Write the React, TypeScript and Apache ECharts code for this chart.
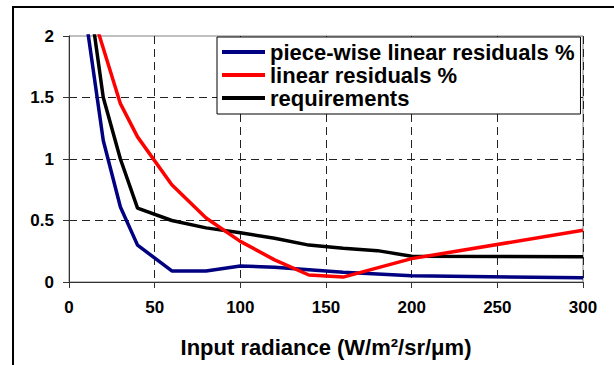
import React, { useEffect, useRef } from "react";
import * as echarts from "echarts";

const radiance = [10, 20, 30, 40, 60, 80, 100, 120, 140, 160, 180, 200, 300];
const pieceWise = [2.13, 1.15, 0.61, 0.3, 0.09, 0.09, 0.13, 0.12, 0.1, 0.08, 0.065, 0.05, 0.035];
const linearRes = [2.35, 1.9, 1.45, 1.18, 0.79, 0.52, 0.33, 0.18, 0.057, 0.04, 0.115, 0.19, 0.42];
const requirements = [2.5, 1.5, 1.0, 0.6, 0.5, 0.44, 0.4, 0.355, 0.3, 0.275, 0.255, 0.21, 0.205];
const seriesNames = ["piece-wise linear residuals %", "linear residuals %", "requirements"];
const seriesColors = ["#000080", "#FF0000", "#000000"];
const seriesZ = [2, 3, 1];
const xTitle = "Input radiance (W/m²/sr/μm)";

const FONT = "'Liberation Sans', Arial, sans-serif";

export default function App() {
  const ref = useRef<HTMLDivElement>(null);
  useEffect(() => {
    document.body.style.margin = "0";
    const chart = echarts.init(ref.current!, null, { renderer: "svg" });
    const sets = [pieceWise, linearRes, requirements];
    chart.setOption({
      animation: false,
      backgroundColor: "#fff",
      textStyle: { fontFamily: FONT },
      grid: { left: 69, right: 31, top: 36, bottom: 83, show: true, borderColor: "#808080", borderWidth: 1, backgroundColor: "transparent" },
      graphic: [
        {
          type: "rect",
          shape: { x: 13, y: 7, width: 700, height: 500 },
          style: { fill: "none", stroke: "#000", lineWidth: 2 },
          silent: true,
        },
      ],
      legend: {
        left: 217,
        top: 37,
        orient: "vertical",
        data: seriesNames,
        icon: "rect",
        itemWidth: 43,
        itemHeight: 4,
        itemGap: 1,
        padding: [4, 6, 5, 5],
        borderColor: "#000",
        borderWidth: 1,
        backgroundColor: "#fff",
        textStyle: { fontFamily: FONT, fontSize: 22, fontWeight: "bold", color: "#000", lineHeight: 22 },
      },
      xAxis: {
        type: "value",
        min: 0,
        max: 300,
        interval: 50,
        name: xTitle,
        nameLocation: "middle",
        nameGap: 54,
        nameTextStyle: { fontFamily: FONT, fontSize: 22, fontWeight: "bold", color: "#000" },
        axisLine: { show: true, onZero: false, lineStyle: { color: "#333", width: 1 } },
        axisTick: { show: true, length: 6, lineStyle: { color: "#333" } },
        axisLabel: { margin: 17, fontFamily: FONT, fontSize: 17, fontWeight: "bold", color: "#000" },
        splitLine: { show: true, showMinLine: false, lineStyle: { color: "#222", type: [8, 5], width: 1 } },
      },
      yAxis: {
        type: "value",
        min: 0,
        max: 2,
        interval: 0.5,
        axisLine: { show: true, onZero: false, lineStyle: { color: "#333", width: 1 } },
        axisTick: { show: true, length: 6, lineStyle: { color: "#333" } },
        axisLabel: { margin: 15, fontFamily: FONT, fontSize: 17, fontWeight: "bold", color: "#000" },
        splitLine: { show: true, showMinLine: false, showMaxLine: false, lineStyle: { color: "#222", type: [8, 5], width: 1 } },
      },
      series: sets.map((ys, i) => ({
        type: "line",
        name: seriesNames[i],
        data: radiance.map((x, j) => [x, ys[j]]),
        showSymbol: false,
        symbol: "none",
        clip: true,
        color: seriesColors[i],
        lineStyle: { color: seriesColors[i], width: 3.5 },
        z: seriesZ[i],
      })),
    });
    return () => chart.dispose();
  }, []);
  return <div ref={ref} style={{ position: "fixed", left: 0, top: 0, width: 614, height: 365 }} />;
}
